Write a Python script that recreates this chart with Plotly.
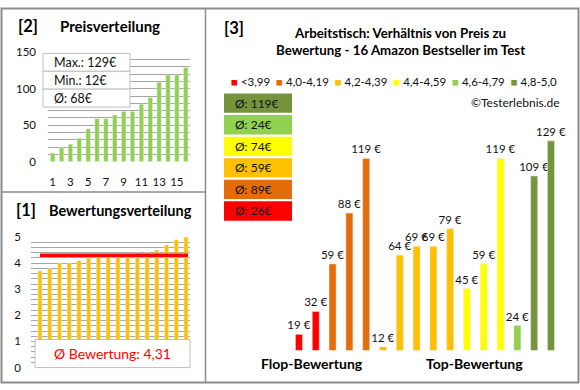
import plotly.graph_objects as go

W, H = 580, 390


def px(x):
    return x / W


def py(y):
    return 1 - y / H


# ---------------- data ----------------
rank = list(range(1, 17))
prices_sorted = [12, 19, 24, 32, 45, 59, 59, 64, 69, 69, 79, 88, 109, 119, 119, 129]
ratings_sorted = [3.7, 3.8, 4.0, 4.0, 4.1, 4.2, 4.3, 4.3, 4.3, 4.3, 4.4, 4.4, 4.5, 4.7, 4.9, 5.0]

groups = ["<3,99", "4,0-4,19", "4,2-4,39", "4,4-4,59", "4,6-4,79", "4,8-5,0"]
group_colors = ["#FF0000", "#E46C0A", "#FFC000", "#FFFF00", "#92D050", "#77933C"]
group_prices = [[19, 32], [59, 88, 119], [12, 64, 69, 69, 79], [45, 59, 119], [24], [109, 129]]

price_ticks = [0, 50, 100, 150]
rating_ticks = [0, 1, 2, 3, 4, 5]

FONT = "Lato"
GRID = "#A6A6A6"
TXT = "#111111"

fig = go.Figure()

# ---------- [2] Preisverteilung ----------
fig.add_trace(go.Bar(x=rank, y=prices_sorted, marker_color="#92D050", width=0.5,
                     xaxis="x", yaxis="y", showlegend=False))

# ---------- [1] Bewertungsverteilung ----------
fig.add_trace(go.Bar(x=rank, y=ratings_sorted, marker_color="#FFC000", width=0.42,
                     xaxis="x2", yaxis="y2", showlegend=False))
avg_rating = sum(ratings_sorted) / len(ratings_sorted)
fig.add_trace(go.Scatter(x=[rank[0], rank[-1] + 0.2], y=[avg_rating, avg_rating], mode="lines",
                         line=dict(color="#FF0000", width=3.5), xaxis="x2", yaxis="y2",
                         showlegend=False, hoverinfo="skip"))

# ---------- [3] main chart ----------
pos = 0
for name, col, vals in zip(groups, group_colors, group_prices):
    xs = list(range(pos, pos + len(vals)))
    pos += len(vals)
    fig.add_trace(go.Bar(x=xs, y=vals, marker_color=col, width=0.42, name=name,
                         texttemplate="%{y} €", textposition="outside",
                         textfont=dict(family=FONT, size=11.5, color=TXT),
                         constraintext="none", xaxis="x3", yaxis="y3", showlegend=False))

axis_common = dict(showline=False, zeroline=False, fixedrange=True)

fig.update_layout(
    width=W, height=H, margin=dict(l=0, r=0, t=0, b=0),
    paper_bgcolor="white", plot_bgcolor="white",
    font=dict(family=FONT, size=11, color=TXT),
    bargap=0,
    xaxis=dict(domain=[px(48), px(190)], range=[0.47, 16.48], anchor="y",
               tickvals=rank[::2], ticks="", showgrid=False, ticklabelstandoff=12,
               tickfont=dict(size=11.5), **axis_common),
    yaxis=dict(domain=[py(160), py(47)], range=[0, 150], anchor="x",
               tickvals=price_ticks, ticks="", showgrid=True, gridcolor=GRID, gridwidth=1,
               minor=dict(dtick=10, showgrid=True, gridcolor=GRID, gridwidth=1),
               ticklabelstandoff=11, tickfont=dict(size=11.5), **axis_common),
    xaxis2=dict(domain=[px(31), px(190)], range=[0.075, 16.41], anchor="y2",
                showticklabels=False, ticks="", showgrid=False, **axis_common),
    yaxis2=dict(domain=[py(373), py(238)], range=[0, 5], anchor="x2",
                tickvals=rating_ticks, ticks="", showgrid=True, gridcolor=GRID, gridwidth=1,
                minor=dict(dtick=0.2, showgrid=True, gridcolor=GRID, gridwidth=1),
                ticklabelstandoff=9, tickfont=dict(size=11.5), **axis_common),
    xaxis3=dict(domain=[px(280), px(576)], range=[-1.13, 16.49], anchor="y3",
                showticklabels=False, ticks="", showgrid=False, **axis_common),
    yaxis3=dict(domain=[py(355), py(118.4)], range=[10, 140], anchor="x3",
                showticklabels=False, ticks="", showgrid=False, **axis_common),
)

shapes = []
ann = []

# frames
shapes.append(dict(type="rect", xref="paper", yref="paper", x0=px(1.5), x1=px(578.5),
                   y0=py(388.5), y1=py(1.5), line=dict(color="#8C8C8C", width=2)))
shapes.append(dict(type="line", xref="paper", yref="paper", x0=px(205.5), x1=px(205.5),
                   y0=py(388.5), y1=py(1.5), line=dict(color="#8C8C8C", width=1.5)))
shapes.append(dict(type="line", xref="paper", yref="paper", x0=px(1.5), x1=px(205.5),
                   y0=py(191.5), y1=py(191.5), line=dict(color="#8C8C8C", width=1.5)))


def title(text, x, y, size=13, anchor="left"):
    ann.append(dict(text=f"<b>{text}</b>", x=px(x), y=py(y), xref="paper", yref="paper",
                    xanchor=anchor, yanchor="middle", showarrow=False,
                    font=dict(family=FONT, size=size, color="#000000")))


title("[2]", 16, 20, 16.5)
title("Preisverteilung", 58, 20, 15)
title("[1]", 14, 210, 16.5)
title("Bewertungsverteilung", 47, 210, 14.5)
title("[3]", 222, 22, 16.5)
ann.append(dict(text="<b>Arbeitstisch: Verhältnis von Preis zu<br>Bewertung - 16 Amazon Bestseller im Test</b>",
                x=px(400), y=py(36), xref="paper", yref="paper", xanchor="center", yanchor="middle",
                showarrow=False, align="center",
                font=dict(family=FONT, size=13.3, color="#000000")))

# info box top-left
info_rows = [f"Max.: {max(prices_sorted)}€", f"Min.: {min(prices_sorted)}€",
             f"Ø: {round(sum(prices_sorted) / len(prices_sorted))}€"]
row_edges = [48, 66.5, 85, 103.5]
for i, t in enumerate(info_rows):
    shapes.append(dict(type="rect", xref="paper", yref="paper", x0=px(43), x1=px(130),
                       y0=py(row_edges[i + 1]), y1=py(row_edges[i]),
                       fillcolor="white", line=dict(color="#BFBFBF", width=1), layer="above"))
    ann.append(dict(text=t, x=px(52), y=py((row_edges[i] + row_edges[i + 1]) / 2),
                    xref="paper", yref="paper", xanchor="left", yanchor="middle",
                    showarrow=False, font=dict(family=FONT, size=12.5, color=TXT)))

# rating average box
shapes.append(dict(type="rect", xref="paper", yref="paper", x0=px(35), x1=px(190),
                   y0=py(373), y1=py(344), fillcolor="white",
                   line=dict(color="#BFBFBF", width=1), layer="above"))
ann.append(dict(text=f"Ø Bewertung: {avg_rating:.2f}".replace(".", ","), x=px(112), y=py(358.5),
                xref="paper", yref="paper", xanchor="center", yanchor="middle",
                showarrow=False, font=dict(family=FONT, size=14, color="#FF0000")))

# legend (custom)
leg_parts = []
for name, col in zip(groups, group_colors):
    leg_parts.append(f"<span style='color:{col}'>■</span>\u00a0{name.replace('<', '&lt;')}")
ann.append(dict(text="\u00a0\u00a0".join(leg_parts), x=px(393.5), y=py(77),
                xref="paper", yref="paper", xanchor="center", yanchor="middle",
                showarrow=False, font=dict(family=FONT, size=11.5, color=TXT)))

# group average boxes (top to bottom: best group first)
box_top = 89.5
box_h = 20
box_step = 22.3
for k, (col, vals) in enumerate(zip(group_colors[::-1], group_prices[::-1])):
    y0 = box_top + k * box_step
    shapes.append(dict(type="rect", xref="paper", yref="paper", x0=px(224), x1=px(292),
                       y0=py(y0 + box_h), y1=py(y0), fillcolor=col,
                       line=dict(width=0), layer="above"))
    ann.append(dict(text=f"Ø: {round(sum(vals) / len(vals))}€", x=px(233), y=py(y0 + box_h / 2),
                    xref="paper", yref="paper", xanchor="left", yanchor="middle",
                    showarrow=False, font=dict(family=FONT, size=12, color=TXT)))

ann.append(dict(text="©Testerlebnis.de", x=px(562), y=py(99), xref="paper", yref="paper",
                xanchor="right", yanchor="middle", showarrow=False,
                font=dict(family=FONT, size=12, color=TXT)))

title("Flop-Bewertung", 312, 369, 14, "center")
title("Top-Bewertung", 474.5, 369, 14, "center")

fig.update_layout(shapes=shapes, annotations=ann)

fig.write_html("out.html", config={"displayModeBar": False, "staticPlot": True},
               post_script="document.body.style.margin='0';document.body.style.padding='0';")
